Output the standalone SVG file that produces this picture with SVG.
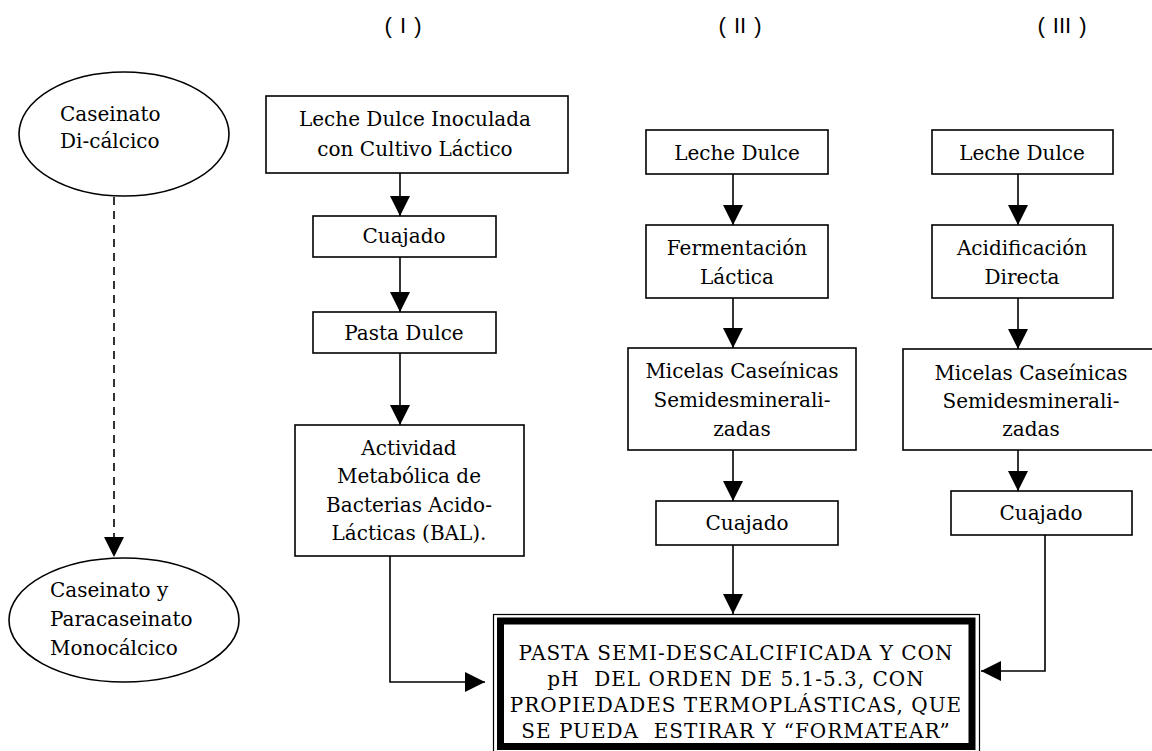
<svg xmlns="http://www.w3.org/2000/svg" width="1152" height="751" viewBox="0 0 1152 751">
<style>
  .bx { fill: #fff; stroke: #000; stroke-width: 1.6; }
  .t { font-family: "DejaVu Serif", "Liberation Serif", serif; font-size: 20px; fill: #000; text-anchor: middle; }
  .tl { font-family: "DejaVu Serif", "Liberation Serif", serif; font-size: 20px; fill: #000; }
  .tf { font-family: "DejaVu Serif", "Liberation Serif", serif; font-size: 20px; fill: #000; text-anchor: middle; letter-spacing: 1px; white-space: pre; }
  .hd { font-family: "Liberation Sans", Arial, sans-serif; font-size: 22px; fill: #000; text-anchor: middle; word-spacing: 2px; }
  .cn { fill: none; stroke: #000; stroke-width: 1.6; marker-end: url(#ah); }
  .dash { stroke-dasharray: 8 6; }
</style>
<defs>
  <marker id="ah" viewBox="0 0 20 20" markerWidth="20" markerHeight="20" refX="20" refY="10" markerUnits="userSpaceOnUse" orient="auto">
    <path d="M0,0 L20,10 L0,20 z" fill="#000"/>
  </marker>
</defs>
<rect width="1152" height="751" fill="#fff"/>

<g id="headers">
  <text class="hd" x="403" y="33">( I )</text>
  <text class="hd" x="740" y="33">( II )</text>
  <text class="hd" x="1062" y="33">( III )</text>
</g>

<g id="connectors">
  <path class="cn dash" d="M114,197 V557"/>
  <path class="cn" d="M400,173 V216"/>
  <path class="cn" d="M400,257 V312"/>
  <path class="cn" d="M400,353 V425"/>
  <path class="cn" d="M390,556 V682 H485"/>
  <path class="cn" d="M733,174 V225"/>
  <path class="cn" d="M733,298 V348"/>
  <path class="cn" d="M733,450 V501"/>
  <path class="cn" d="M733,545 V614"/>
  <path class="cn" d="M1018,174 V225"/>
  <path class="cn" d="M1018,298 V349"/>
  <path class="cn" d="M1018,450 V491"/>
  <path class="cn" d="M1045,535 V671 H981"/>
</g>

<g id="caseinato-dicalcico">
  <ellipse cx="124" cy="134" rx="105" ry="62" fill="#fff" stroke="#000" stroke-width="1.6"/>
  <text class="tl" x="60" y="121">Caseinato</text>
  <text class="tl" x="60" y="148">Di-cálcico</text>
</g>

<g id="caseinato-monocalcico">
  <ellipse cx="124" cy="620" rx="115" ry="62" fill="#fff" stroke="#000" stroke-width="1.6"/>
  <text class="tl" x="50" y="597">Caseinato y</text>
  <text class="tl" x="50" y="626">Paracaseinato</text>
  <text class="tl" x="50" y="655">Monocálcico</text>
</g>

<g id="i-leche-inoculada">
  <rect class="bx" x="266" y="96" width="302" height="77"/>
  <text class="t" x="415" y="126">Leche Dulce Inoculada</text>
  <text class="t" x="415" y="156">con Cultivo Láctico</text>
</g>
<g id="i-cuajado">
  <rect class="bx" x="313" y="216" width="183" height="41"/>
  <text class="t" x="404" y="243">Cuajado</text>
</g>
<g id="i-pasta-dulce">
  <rect class="bx" x="313" y="312" width="183" height="41"/>
  <text class="t" x="404" y="340">Pasta Dulce</text>
</g>
<g id="i-actividad">
  <rect class="bx" x="295" y="425" width="229" height="131"/>
  <text class="t" x="409" y="455">Actividad</text>
  <text class="t" x="409" y="483">Metabólica de</text>
  <text class="t" x="409" y="512">Bacterias Acido-</text>
  <text class="t" x="409" y="540">Lácticas (BAL).</text>
</g>

<g id="ii-leche">
  <rect class="bx" x="646" y="130" width="182" height="44"/>
  <text class="t" x="737" y="160">Leche Dulce</text>
</g>
<g id="ii-fermentacion">
  <rect class="bx" x="646" y="225" width="182" height="73"/>
  <text class="t" x="737" y="255">Fermentación</text>
  <text class="t" x="737" y="284">Láctica</text>
</g>
<g id="ii-micelas">
  <rect class="bx" x="628" y="348" width="228" height="102"/>
  <text class="t" x="742" y="378">Micelas Caseínicas</text>
  <text class="t" x="742" y="407">Semidesminerali-</text>
  <text class="t" x="742" y="436">zadas</text>
</g>
<g id="ii-cuajado">
  <rect class="bx" x="656" y="501" width="182" height="44"/>
  <text class="t" x="747" y="530">Cuajado</text>
</g>

<g id="iii-leche">
  <rect class="bx" x="932" y="130" width="181" height="44"/>
  <text class="t" x="1022" y="160">Leche Dulce</text>
</g>
<g id="iii-acidificacion">
  <rect class="bx" x="932" y="225" width="181" height="73"/>
  <text class="t" x="1022" y="255">Acidificación</text>
  <text class="t" x="1022" y="284">Directa</text>
</g>
<g id="iii-micelas">
  <rect class="bx" x="903" y="349" width="256" height="101"/>
  <text class="t" x="1031" y="380">Micelas Caseínicas</text>
  <text class="t" x="1031" y="408">Semidesminerali-</text>
  <text class="t" x="1031" y="436">zadas</text>
</g>
<g id="iii-cuajado">
  <rect class="bx" x="951" y="491" width="181" height="44"/>
  <text class="t" x="1041" y="520">Cuajado</text>
</g>

<g id="pasta-final">
  <rect x="493.5" y="614.5" width="486" height="140" fill="#fff" stroke="#000" stroke-width="1.2"/>
  <rect x="500.5" y="621" width="471.5" height="125.5" fill="#fff" stroke="#000" stroke-width="7"/>
  <text class="tf" x="736" y="660">PASTA SEMI-DESCALCIFICADA Y CON</text>
  <text class="tf" x="736" y="686">pH  DEL ORDEN DE 5.1-5.3, CON</text>
  <text class="tf" x="736" y="712">PROPIEDADES TERMOPLÁSTICAS, QUE</text>
  <text class="tf" x="736" y="738">SE PUEDA  ESTIRAR Y “FORMATEAR”</text>
</g>
</svg>
